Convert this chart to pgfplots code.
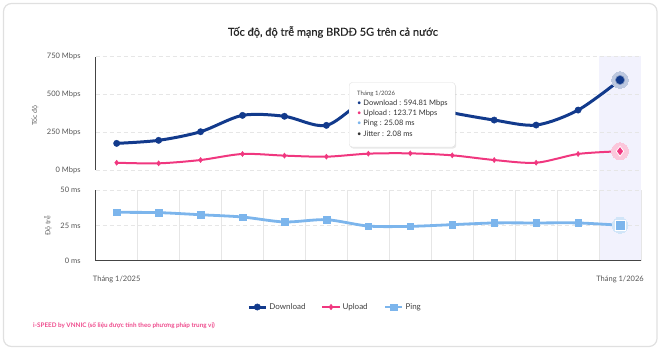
\documentclass[border=0pt]{standalone}
\usepackage{fontspec}
\setmainfont{Lato}
\newfontfamily\titlefont[FakeBold=0.5]{Lato}
\usepackage{pgfplots}
\pgfplotsset{compat=1.18}
\usetikzlibrary{shadows}
\definecolor{dl}{HTML}{123A8C}
\definecolor{ul}{HTML}{F0377F}
\definecolor{pg}{HTML}{7CB5EC}
\definecolor{gridc}{HTML}{E6E6E6}
\definecolor{axc}{HTML}{444444}
\definecolor{txt}{HTML}{555555}
\definecolor{band}{HTML}{F2F2FD}
\definecolor{foot}{HTML}{EE4A8C}
\pgfplotsset{
  common/.style={
    scale only axis, width=545.3pt, xmin=-0.5, xmax=12.5, clip=false,
    axis line style={draw=none},
    major tick length=0pt, minor tick length=0pt,
    ymajorgrids, y grid style={gridc, dash pattern=on 4pt off 3pt, line width=0.8pt},
    xminorgrids, minor xtick={-0.5,0.5,...,12.5},
    minor x grid style={gridc, line width=0.8pt},
    yticklabel style={font=\fontsize{7.5}{9}\selectfont, text=txt, inner sep=0pt, xshift=-15pt},
  }
}
\begin{document}
\begin{tikzpicture}[x=1pt,y=1pt]
\path[use as bounding box] (0,0) rectangle (660,-350);
\draw[draw=black!12, line width=1.2pt, rounded corners=8pt] (3.5,-3.5) rectangle (657,-346.5);
\fill[band] (599.1,-56.5) rectangle (641,-260.7);
\node[font=\titlefont\fontsize{11}{13}\selectfont, text=black!85] at (333,-32) {Tốc độ, độ trễ mạng BRDĐ 5G trên cả nước};
\node[rotate=90, font=\fontsize{7}{8}\selectfont, text=black!60] at (35,-115.5) {Tốc độ};
\node[rotate=90, font=\fontsize{7}{8}\selectfont, text=black!60] at (48,-226) {Độ trễ};

\begin{axis}[common, at={(95.7pt,-170pt)}, anchor=south west, height=113.5pt,
  ymin=0, ymax=750, ytick={0,250,500,750},
  yticklabels={0 Mbps,250 Mbps,500 Mbps,750 Mbps},
  xtick=\empty]
\draw[axc, line width=0.9pt] (axis description cs:0,0) -- (axis description cs:0,1);
\addplot[only marks, forget plot, color=dl!28, mark=*, mark size=8.3pt, mark options={draw=dl!28, fill=dl!28, line width=0pt}] coordinates {(12,594.81)};
\addplot[only marks, forget plot, color=ul!28, mark=*, mark size=8.5pt, mark options={draw=ul!28, fill=ul!28, line width=0pt}] coordinates {(12,123.71)};
\addplot[dl, line width=3pt, smooth, mark=*, mark size=3.2pt, mark options={fill=dl, draw=dl, line width=0.4pt}]
  coordinates {(0,176) (1,196) (2,253) (3,361) (4,355) (5,295) (6,470) (7,440) (8,378) (9,330) (10,297) (11,396) (12,594.81)};
\addplot[ul, line width=2pt, smooth, mark=diamond*, mark size=2.6pt, mark options={fill=ul, draw=ul, line width=0.4pt}]
  coordinates {(0,48) (1,44) (2,66) (3,106) (4,95) (5,88) (6,108) (7,110) (8,97) (9,66) (10,48) (11,106) (12,123.71)};
\addplot[only marks, forget plot, color=dl, mark=*, mark size=4.6pt, mark options={draw=dl!55, fill=dl, line width=0.6pt}] coordinates {(12,594.81)};
\addplot[only marks, forget plot, color=ul, mark=diamond*, mark size=5pt, mark options={draw=white, fill=ul, line width=0.8pt}] coordinates {(12,123.71)};
\end{axis}

\begin{axis}[common, at={(95.7pt,-260.7pt)}, anchor=south west, height=70.7pt,
  ymin=0, ymax=50, ytick={0,25,50},
  yticklabels={0 ms,25 ms,50 ms},
  xtick={0,12}, xticklabels={Tháng 1/2025,Tháng 1/2026},
  xticklabel style={font=\fontsize{7.5}{9}\selectfont, text=txt, inner sep=0pt, anchor=north, yshift=-15.5pt},
  legend columns=3,
  legend style={draw=none, fill=none, at={(0.439,-0.655)}, anchor=center,
    font=\fontsize{8}{10}\selectfont, text=black!75,
    /tikz/every even column/.append style={column sep=14pt}},
  legend cell align=left]
\draw[axc, line width=0.9pt] (axis description cs:0,1) -- (axis description cs:0,0) -- (axis description cs:1,0);
\addlegendimage{dl, line width=3pt, mark=*, mark size=3.2pt, mark options={fill=dl, draw=dl, line width=0.4pt}}
\addlegendentry{Download}
\addlegendimage{ul, line width=2pt, mark=diamond*, mark size=2.8pt, mark options={fill=ul, draw=ul, line width=0.4pt}}
\addlegendentry{Upload}
\addplot[only marks, forget plot, color=pg!35, mark=*, mark size=8pt, mark options={draw=pg!35, fill=pg!35, line width=0pt}] coordinates {(12,25.08)};
\addplot[pg, line width=2.8pt, smooth, mark=square*, mark size=3.3pt, mark options={fill=pg, draw=pg, line width=0.4pt}]
  coordinates {(0,34.2) (1,34) (2,32.5) (3,30.9) (4,27.4) (5,29) (6,24.5) (7,24.3) (8,25.5) (9,26.7) (10,26.7) (11,26.7) (12,25.08)};
\addlegendentry{Ping}
\addplot[only marks, forget plot, color=pg, mark=square*, mark size=5pt, mark options={draw=white, fill=pg, line width=0.8pt}] coordinates {(12,25.08)};
\end{axis}

\node[draw=black!12, fill=white, rounded corners=3pt, drop shadow={opacity=0.18, shadow xshift=1pt, shadow yshift=-1.5pt}, anchor=north west, minimum width=106pt, minimum height=64.5pt, inner sep=0pt] at (349,-82.3) {};
\node[anchor=west, inner sep=0pt, font=\fontsize{6}{7}\selectfont, text=black!70] at (357,-94) {Tháng 1/2026};
\node[anchor=west, inner sep=0pt, font=\fontsize{7.5}{9}\selectfont, text=black!80] at (357,-103.7) {\textcolor{dl}{•} Download : 594.81 Mbps};
\node[anchor=west, inner sep=0pt, font=\fontsize{7.5}{9}\selectfont, text=black!80] at (357,-113.3) {\textcolor{ul}{•} Upload : 123.71 Mbps};
\node[anchor=west, inner sep=0pt, font=\fontsize{7.5}{9}\selectfont, text=black!80] at (357,-123.3) {\textcolor{pg}{•} Ping : 25.08 ms};
\node[anchor=west, inner sep=0pt, font=\fontsize{7.5}{9}\selectfont, text=black!80] at (357,-133.3) {\textcolor{black!80}{•} Jitter : 2.08 ms};

\node[anchor=west, inner sep=0pt, font=\bfseries\fontsize{6.3}{8}\selectfont, text=foot] at (33,-326) {i-SPEED by VNNIC (số liệu được tính theo phương pháp trung vị)};
\end{tikzpicture}
\end{document}
